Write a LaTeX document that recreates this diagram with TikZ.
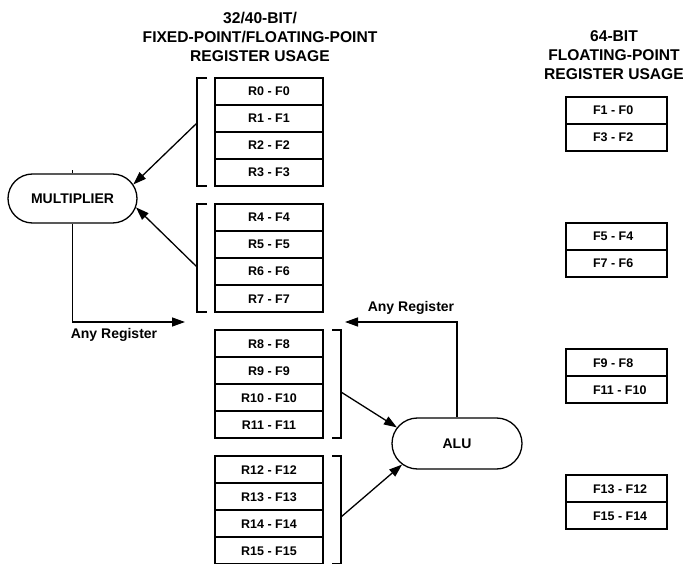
\documentclass[tikz,border=0pt]{standalone}
\usepackage{fontspec}
\setmainfont{Liberation Sans}
\usetikzlibrary{shapes.misc,arrows.meta}
\tikzset{
  ttl/.style={font=\fontsize{15.6}{19}\selectfont\bfseries, align=center, inner sep=0pt},
  lbox/.style={draw, line width=1.3pt, minimum width=108pt, minimum height=27pt, inner sep=0pt,
    font=\fontsize{12.5}{14}\selectfont\bfseries, text height=9pt, text depth=0pt},
  rbox/.style={draw, line width=1.3pt, minimum width=101pt, minimum height=27pt, inner sep=0pt,
    font=\fontsize{12.5}{14}\selectfont\bfseries, text height=9pt, text depth=0pt},
  unit/.style={draw, line width=1.3pt, rounded rectangle, inner sep=0pt,
    font=\fontsize{14}{16}\selectfont\bfseries},
  lbl/.style={font=\fontsize{14}{16}\selectfont\bfseries, inner sep=0pt},
  brk/.style={line width=1.3pt},
  arr/.style={line width=1.3pt, -{Triangle[length=13pt,width=9pt]}},
}
\newcommand{\rt}[1]{\makebox[47pt][l]{#1}}
\begin{document}
\begin{tikzpicture}[x=1pt,y=-1pt]
\useasboundingbox (0,0) rectangle (683,564);
% titles
\node[ttl] (t1) at (260,37) {32/40-BIT/\\FIXED-POINT/FLOATING-POINT\\REGISTER USAGE};
\node[ttl] (t2) at (614,55) {64-BIT\\FLOATING-POINT\\REGISTER USAGE};
% left register file
\node[lbox] (r0) at (269,91.5) {R0 - F0};
\node[lbox] (r1) at (269,118.5) {R1 - F1};
\node[lbox] (r2) at (269,145.5) {R2 - F2};
\node[lbox] (r3) at (269,172.5) {R3 - F3};
\node[lbox] (r4) at (269,217.5) {R4 - F4};
\node[lbox] (r5) at (269,244.5) {R5 - F5};
\node[lbox] (r6) at (269,271.5) {R6 - F6};
\node[lbox] (r7) at (269,298.5) {R7 - F7};
\node[lbox] (r8) at (269,343.5) {R8 - F8};
\node[lbox] (r9) at (269,370.5) {R9 - F9};
\node[lbox] (r10) at (269,397.5) {R10 - F10};
\node[lbox] (r11) at (269,424.5) {R11 - F11};
\node[lbox] (r12) at (269,469.5) {R12 - F12};
\node[lbox] (r13) at (269,496.5) {R13 - F13};
\node[lbox] (r14) at (269,523.5) {R14 - F14};
\node[lbox] (r15) at (269,550.5) {R15 - F15};
% right register file
\node[rbox] (f0) at (616.5,110.5) {\rt{F1 - F0}};
\node[rbox] (f2) at (616.5,137.5) {\rt{F3 - F2}};
\node[rbox] (f4) at (616.5,236.5) {\rt{F5 - F4}};
\node[rbox] (f6) at (616.5,263.5) {\rt{F7 - F6}};
\node[rbox] (f8) at (616.5,362.5) {\rt{F9 - F8}};
\node[rbox] (f10) at (616.5,389.5) {\rt{F11 - F10}};
\node[rbox] (f12) at (616.5,488.5) {\rt{F13 - F12}};
\node[rbox] (f14) at (616.5,515.5) {\rt{F15 - F14}};
% brackets
\draw[brk] (207,78) -- (197,78) -- (197,186) -- (207,186);
\draw[brk] (207,204) -- (197,204) -- (197,312) -- (207,312);
\draw[brk] (332,330) -- (341,330) -- (341,438) -- (332,438);
\draw[brk] (332,456) -- (341,456) -- (341,564) -- (332,564);
\coordinate (b1) at (197,123);
\coordinate (b2) at (197,267);
\coordinate (b3) at (341,392);
\coordinate (b4) at (341,517);
% units
\node[unit, minimum width=129pt, minimum height=49pt] (mul) at (72.5,198.5) {MULTIPLIER};
\node[unit, minimum width=130pt, minimum height=51pt] (alu) at (457,443.5) {ALU};
\draw[line width=1pt] (mul.north) -- ++(0,-3);
% connectors
\draw[arr] (b1) -- (mul.13);
\draw[arr] (b2) -- (mul.352);
\draw[arr] (b3) -- (alu.165);
\draw[arr] (b4) -- (alu.201);
\coordinate (me) at (185,322);
\coordinate (ae) at (345,322);
\draw[arr] (mul.south) |- (me);
\draw[arr] (alu.north) |- (ae);
\node[lbl] (l1) at (114,335) {Any Register};
\node[lbl] (l2) at (411,308) {Any Register};
\end{tikzpicture}
\end{document}
